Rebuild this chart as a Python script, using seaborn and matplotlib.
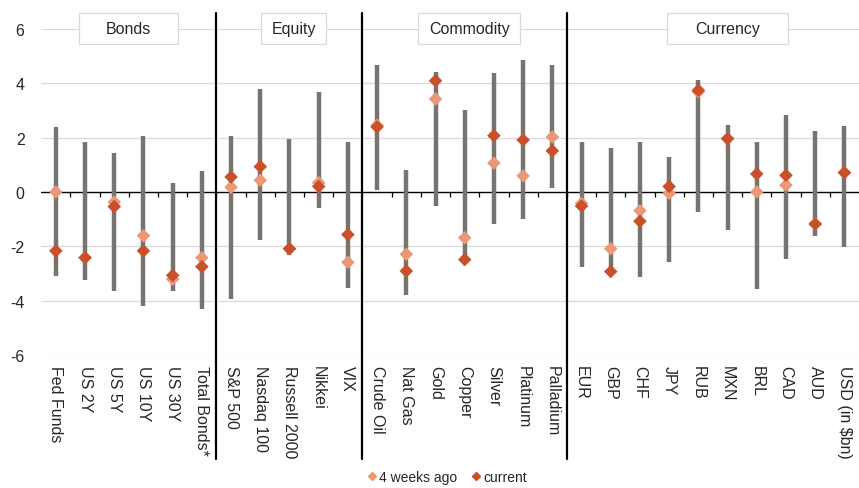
import matplotlib
matplotlib.use('Agg')
import matplotlib.pyplot as plt
import matplotlib.patches as patches
from matplotlib.lines import Line2D
import numpy as np
import pandas as pd
import seaborn as sns

# categories per asset class
groups = ["Bonds", "Equity", "Commodity", "Currency"]
bonds = ["Fed Funds", "US 2Y", "US 5Y", "US 10Y", "US 30Y", "Total Bonds*"]
equity = ["S&P 500", "Nasdaq 100", "Russell 2000", "Nikkei", "VIX"]
commodity = ["Crude Oil", "Nat Gas", "Gold", "Copper", "Silver", "Platinum", "Palladium"]
currency = ["EUR", "GBP", "CHF", "JPY", "RUB", "MXN", "BRL", "CAD", "AUD", "USD (in $bn)"]
categories = bonds + equity + commodity + currency

# range (high / low) and the two points
range_high = [2.40, 1.84, 1.42, 2.04, 0.32, 0.77,
              2.07, 3.80, 1.93, 3.68, 1.82,
              4.66, 0.82, 4.42, 3.02, 4.37, 4.85, 4.67,
              1.84, 1.61, 1.84, 1.30, 4.11, 2.47, 1.84, 2.82, 2.23, 2.42]
range_low = [-3.09, -3.25, -3.66, -4.21, -3.64, -4.32,
             -3.93, -1.77, -2.33, -0.61, -3.53,
             0.07, -3.80, -0.52, -2.48, -1.18, -1.01, 0.16,
             -2.75, -2.93, -3.14, -2.58, -0.75, -1.40, -3.56, -2.48, -1.64, -2.01]
weeks_ago = [0.00, -2.42, -0.37, -1.61, -3.21, -2.42,
             0.17, 0.43, -2.09, 0.34, -2.59,
             2.45, -2.29, 3.42, -1.69, 1.06, 0.59, 2.02,
             -0.42, -2.09, -0.69, -0.05, 3.68, 1.96, 0.00, 0.25, -1.18, 0.71]
current = [-2.17, -2.42, -0.54, -2.17, -3.07, -2.75,
           0.55, 0.93, -2.09, 0.20, -1.57,
           2.39, -2.91, 4.09, -2.49, 2.07, 1.91, 1.51,
           -0.52, -2.93, -1.08, 0.20, 3.74, 1.96, 0.66, 0.61, -1.18, 0.71]

c_now = "#C8502A"
c_prev = "#EB9878"
c_bar = "#77736F"

sns.set_style("white")
plt.rcParams['font.family'] = ['Liberation Sans', 'DejaVu Sans']
plt.rcParams['axes.unicode_minus'] = False

fig = plt.figure(figsize=(8.59, 4.89), dpi=100)
ax = fig.add_axes([0.048, 0.272, 0.952, 0.667])

x = np.arange(len(categories))
df = pd.DataFrame({"cat": categories, "x": x, "4 weeks ago": weeks_ago, "current": current})
long = df.melt(id_vars=["cat", "x"], value_vars=["4 weeks ago", "current"],
               var_name="series", value_name="val")

for y in range(-6, 7, 2):
    if y != 0:
        ax.axhline(y, color="#D9D9D9", lw=0.9, zorder=0)
ax.axhline(0, color="black", lw=1.0, zorder=1)
ax.vlines(x[:-1] + 0.5, -0.2, 0, color="black", lw=0.9, zorder=1)

ax.vlines(x, range_low, range_high, color=c_bar, lw=3.2, zorder=2)
sns.scatterplot(data=long, x="x", y="val", hue="series", palette=[c_prev, c_now],
                marker="D", s=48, linewidth=0, ax=ax, zorder=3, legend=False)

ax.set_xlim(-0.5, len(categories) - 0.5)
ax.set_ylim(-6, 6)
ax.set_yticks(range(-6, 7, 2))
ax.set_xticks(x)
ax.set_xticklabels(categories, rotation=270, va="top", ha="center")
ax.tick_params(axis="both", length=0, labelsize=11.5)
ax.tick_params(axis="x", pad=7)
ax.tick_params(axis="y", pad=12)
ax.set_xlabel("")
ax.set_ylabel("")
for s in ax.spines.values():
    s.set_visible(False)

# group separators and header boxes
sizes = [len(bonds), len(equity), len(commodity), len(currency)]
bounds = np.cumsum(sizes)
for b in bounds[:-1]:
    ax.axvline(b - 0.5, ymin=-0.32, ymax=1.047, color="black", lw=1.6, clip_on=False, zorder=4)

box_center = [2.5, 8.15, 14.16, 23.0]
box_width = [3.39, 2.23, 3.49, 4.14]
for g, cx, w in zip(groups, box_center, box_width):
    ax.add_patch(patches.Rectangle((cx - w / 2, 5.45), w, 1.14, facecolor="white",
                                   edgecolor="#D9D9D9", lw=0.9, clip_on=False, zorder=5))
    ax.text(cx, 6.02, g, ha="center", va="center", fontsize=11.5, zorder=6)

handles = [Line2D([], [], ls="", marker="D", ms=4.5, color=c_prev, label="4 weeks ago"),
           Line2D([], [], ls="", marker="D", ms=4.5, color=c_now, label="current")]
fig.legend(handles=handles, loc="lower center", bbox_to_anchor=(0.52, -0.012), ncol=2,
           frameon=False, fontsize=10, handletextpad=0.1, columnspacing=1.0, handlelength=0.8,
           borderpad=0.2)

fig.savefig("out.png", dpi=100)
